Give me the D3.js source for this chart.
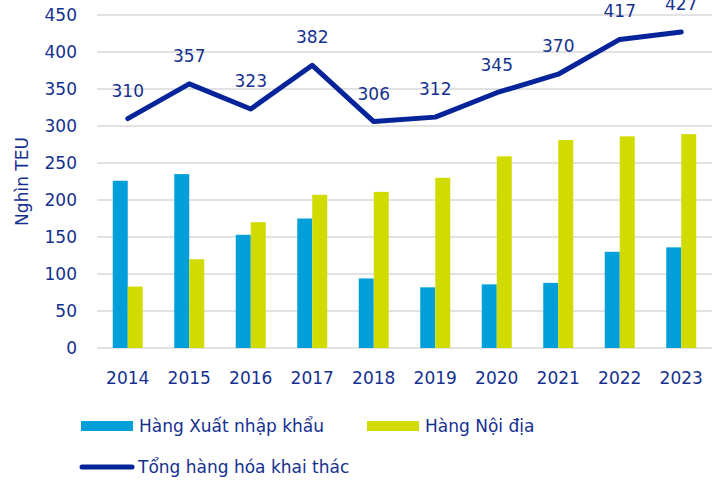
<!DOCTYPE html>
<html>
<head>
<meta charset="utf-8">
<script src="https://cdn.jsdelivr.net/npm/d3@7"></script>
<style>
  body { margin: 0; background: #fff; }
  svg { font-family: "DejaVu Sans", sans-serif; }
</style>
</head>
<body>
<div id="chart"></div>
<script>
const years = ["2014", "2015", "2016", "2017", "2018", "2019", "2020", "2021", "2022", "2023"];
const xnk = [226, 235, 153, 175, 94, 82, 86, 88, 130, 136];      // Hàng Xuất nhập khẩu
const noiDia = [83, 120, 170, 207, 211, 230, 259, 281, 286, 289]; // Hàng Nội địa
const tong = [310, 357, 323, 382, 306, 312, 345, 370, 417, 427];  // Tổng hàng hóa khai thác
const yTicks = [0, 50, 100, 150, 200, 250, 300, 350, 400, 450];

const width = 723, height = 482;
const textColor = "#15308f";
const blue = "#009fda", yellow = "#d2db00", navy = "#05249a";
const fs = 17;

const svg = d3.select("#chart").append("svg")
  .attr("width", width).attr("height", height);

const x = d3.scaleBand().domain(years).range([97, 712]).paddingInner(0).paddingOuter(0);
const y = d3.scaleLinear().domain([0, 450]).range([348, 15]);

// gridlines
svg.append("g").selectAll("line")
  .data(yTicks)
  .enter().append("line")
  .attr("x1", 97).attr("x2", 712)
  .attr("y1", d => y(d)).attr("y2", d => y(d))
  .attr("stroke", "#d9d9d9").attr("stroke-width", 1.5);

// y tick labels
svg.append("g").selectAll("text")
  .data(yTicks)
  .enter().append("text")
  .attr("x", 77).attr("y", d => y(d)).attr("dy", "0.35em")
  .attr("text-anchor", "end")
  .attr("font-size", fs).attr("fill", textColor)
  .text(d => d);

// x labels
svg.append("g").selectAll("text")
  .data(years)
  .enter().append("text")
  .attr("x", d => x(d) + x.bandwidth() / 2).attr("y", 384)
  .attr("text-anchor", "middle")
  .attr("font-size", fs).attr("fill", textColor)
  .text(d => d);

// axis title
svg.append("text")
  .attr("transform", "translate(28," + y(225) + ") rotate(-90)")
  .attr("text-anchor", "middle")
  .attr("font-size", fs).attr("fill", textColor)
  .text("Nghìn TEU");

const barW = 15;
const sub = d3.scaleBand().domain(["xnk", "nd"]).range([0, barW * 2]);

const groups = svg.append("g").selectAll("g")
  .data(years)
  .enter().append("g")
  .attr("transform", d => "translate(" + (x(d) + x.bandwidth() / 2 - barW) + ",0)");

groups.append("rect")
  .attr("x", sub("xnk")).attr("width", sub.bandwidth())
  .attr("y", (d, i) => y(xnk[i])).attr("height", (d, i) => y(0) - y(xnk[i]))
  .attr("fill", blue);

groups.append("rect")
  .attr("x", sub("nd")).attr("width", sub.bandwidth())
  .attr("y", (d, i) => y(noiDia[i])).attr("height", (d, i) => y(0) - y(noiDia[i]))
  .attr("fill", yellow);

// total line
const line = d3.line()
  .x((d, i) => x(years[i]) + x.bandwidth() / 2)
  .y(d => y(d));

svg.append("path")
  .datum(tong)
  .attr("d", line)
  .attr("fill", "none")
  .attr("stroke", navy)
  .attr("stroke-width", 5)
  .attr("stroke-linejoin", "round")
  .attr("stroke-linecap", "round");

svg.append("g").selectAll("text")
  .data(tong)
  .enter().append("text")
  .attr("x", (d, i) => x(years[i]) + x.bandwidth() / 2)
  .attr("y", d => y(d) - 22)
  .attr("text-anchor", "middle")
  .attr("font-size", fs).attr("fill", textColor)
  .text(d => d);

// legend
const leg = svg.append("g");
leg.append("rect").attr("x", 81).attr("y", 421).attr("width", 52).attr("height", 10).attr("fill", blue);
leg.append("text").attr("x", 139).attr("y", 426).attr("dy", "0.35em")
  .attr("font-size", fs).attr("fill", textColor).text("Hàng Xuất nhập khẩu");
leg.append("rect").attr("x", 367).attr("y", 421).attr("width", 52).attr("height", 10).attr("fill", yellow);
leg.append("text").attr("x", 425).attr("y", 426).attr("dy", "0.35em")
  .attr("font-size", fs).attr("fill", textColor).text("Hàng Nội địa");
leg.append("line").attr("x1", 82).attr("x2", 132).attr("y1", 467).attr("y2", 467)
  .attr("stroke", navy).attr("stroke-width", 5).attr("stroke-linecap", "round");
leg.append("text").attr("x", 138).attr("y", 467).attr("dy", "0.35em")
  .attr("font-size", fs).attr("fill", textColor).text("Tổng hàng hóa khai thác");
</script>
</body>
</html>
